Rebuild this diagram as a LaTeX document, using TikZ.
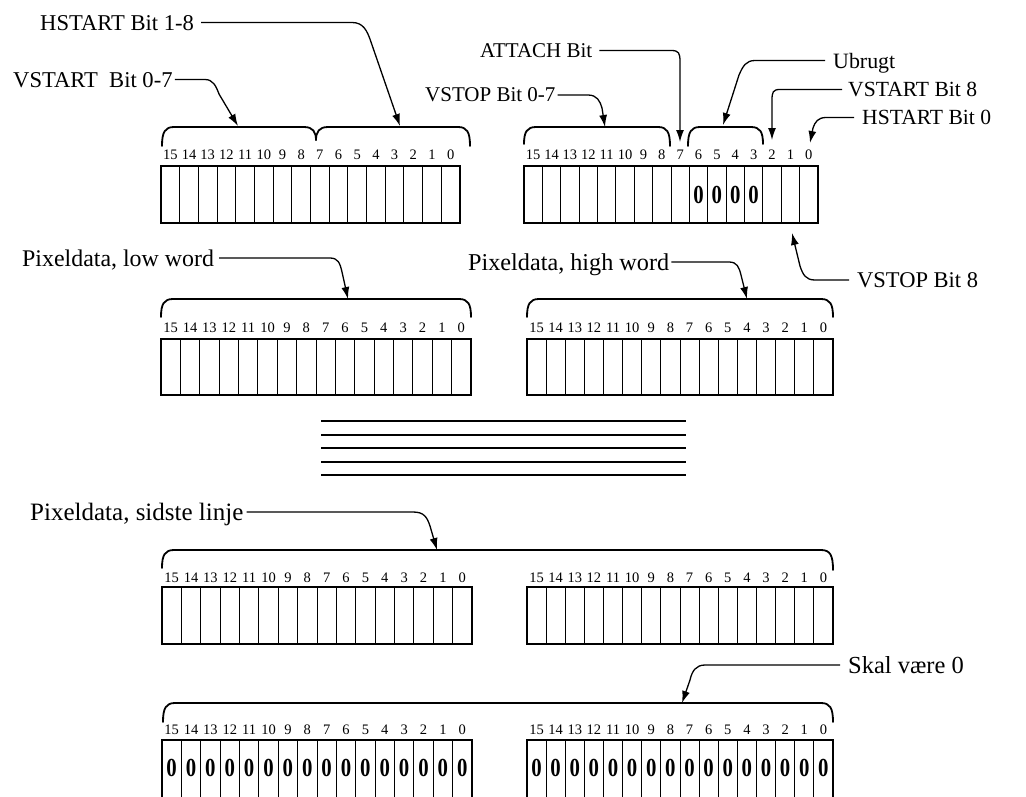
\documentclass[tikz,border=0pt]{standalone}
\usepackage{fontspec}
\setmainfont{Liberation Serif}
\usetikzlibrary{arrows.meta}
\tikzset{
  lbl/.style={anchor=west, inner sep=0pt, text depth=0pt, font=\fontsize{#1}{#1}\selectfont},
  conn/.style={line width=1.3pt, -{Latex[length=12pt,width=8pt]}},
  bracel/.style={line width=1.8pt, line cap=round},
  outerln/.style={line width=1.6pt},
  cellln/.style={line width=0.9pt},
  bitnum/.style={inner sep=0pt, font=\fontsize{14.5}{14.5}\selectfont},
  zero/.style={inner sep=0pt, font=\fontsize{26}{26}\selectfont\bfseries},
  bar/.style={line width=2.8pt},
}
% #1 name, #2 x0, #3 x1, #4 ytop, #5 ybot, #6 y of bit numbers
\newcommand\wordreg[6]{%
  \pgfmathsetmacro\cwid{(#3-#2)/16}
  \draw[cellln] foreach \i in {1,...,15}{ ({#2+\i*\cwid},#4) -- ({#2+\i*\cwid},#5) };
  \draw[outerln] (#2,#4) rectangle (#3,#5);
  \foreach \i in {0,...,15}{
    \pgfmathtruncatemacro\bitn{15-\i}
    \node[bitnum] (#1B\bitn) at ({#2+(\i+0.5)*\cwid},#6) {\bitn};
  }
}
% #1 x0, #2 x1, #3 ytop, #4 left drop, #5 right drop
\newcommand\brc[5]{%
  \draw[bracel] (#1,{#3+#4}) .. controls (#1,{#3+5}) and ({#1+3},#3) .. ({#1+12},#3)
     -- ({#2-12},#3) .. controls ({#2-3},#3) and (#2,{#3+5}) .. (#2,{#3+#5});
}
\begin{document}
\begin{tikzpicture}[x=1pt,y=-1pt]
\useasboundingbox (0,0) rectangle (1026,796);

% ---------- registers ----------
\wordreg{r1a}{161}{460}{166}{223}{155}
\wordreg{r1b}{524}{818}{166}{223}{155}
\wordreg{r2a}{161}{471}{339}{395}{328}
\wordreg{r2b}{527}{833}{339}{395}{328}
\wordreg{r3a}{162}{472}{587}{644}{578}
\wordreg{r3b}{527}{833}{587}{644}{578}
\wordreg{r4a}{162}{472}{740}{806}{730}
\wordreg{r4b}{527}{833}{740}{806}{730}

% zeros
\foreach \b in {6,5,4,3}{ \node[zero] at (r1bB\b |- 0,195) {\scalebox{0.8}[1]{0}}; }
\foreach \b in {0,...,15}{
  \node[zero] at (r4aB\b |- 0,768) {\scalebox{0.8}[1]{0}};
  \node[zero] at (r4bB\b |- 0,768) {\scalebox{0.8}[1]{0}};
}

% ---------- braces ----------
\brc{162}{316}{127}{19}{13}
\brc{316}{470}{127}{13}{19}
\brc{524}{670}{127}{17}{19}
\brc{688}{763}{127}{19}{17}
\brc{161}{471}{299}{18}{18}
\brc{527}{833}{299}{18}{18}
\brc{162}{833}{550}{18}{20}
\brc{163}{833}{703}{19}{19}

% ---------- continuation bars ----------
\foreach \yy in {421,435,448,462,475}{ \draw[bar] (321,\yy) -- (686,\yy); }

% ---------- labels ----------
\node[lbl=22.6] (hs18) at (40,22.5) {HSTART Bit 1-8};
\node[lbl=22.6] (vs07) at (13,79.5) {VSTART\ \ Bit 0-7};
\node[lbl=21.0] (att) at (480,50.5) {ATTACH Bit};
\node[lbl=21.0] (vsp07) at (425,95) {VSTOP Bit 0-7};
\node[lbl=21.9] (ubr) at (833,60.5) {Ubrugt};
\node[lbl=21.6] (vst8) at (848,89.5) {VSTART Bit 8};
\node[lbl=21.6] (hst0) at (862,117.5) {HSTART Bit 0};
\node[lbl=22.5] (vsp8) at (857,280) {VSTOP Bit 8};
\node[lbl=23.9] (pxl) at (22,258) {Pixeldata, low word};
\node[lbl=24.2] (pxh) at (468,262) {Pixeldata, high word};
\node[lbl=25.0] (pxs) at (30,512) {Pixeldata, sidste linje};
\node[lbl=24.5] (skal) at (848,665) {Skal være 0};

% ---------- arrow tips ----------
\coordinate (tHS18) at (400,126);
\coordinate (tVS07) at (238,126);
\coordinate (tATT) at (680,142);
\coordinate (tVSP07) at (605,127);
\coordinate (tUBR) at (723,125);
\coordinate (tVST8) at (772,140);
\coordinate (tHST0) at (810,143);
\coordinate (tVSP8) at (792,233);
\coordinate (tPXL) at (348,299);
\coordinate (tPXH) at (747,299);
\coordinate (tPXS) at (437,550);
\coordinate (tSKAL) at (682,703);

% ---------- connectors ----------
\draw[conn] ([xshift=7pt]hs18.east) -- (hs18.east -| 352,0)
  .. controls (363,22.5) and (367,30) .. (371,42) -- (tHS18);
\draw[conn] ([xshift=2pt]vs07.east) -- (vs07.east -| 205,0)
  .. controls (213,79.5) and (216,86) .. (219,94) -- (tVS07);
\draw[conn] ([xshift=2pt]vsp07.east) -- (vsp07.east -| 588,0)
  .. controls (597,95) and (600,101) .. (602,108) -- (tVSP07);
\draw[conn] ([xshift=7pt]att.east) -- (att.east -| 671,0)
  .. controls (679,50.5) and (680,53) .. (680,62) -- (tATT);
\draw[conn] ([xshift=-8pt]ubr.west) -- (ubr.west -| 755,0)
  .. controls (746,60.5) and (743,66) .. (739,75) -- (tUBR);
\draw[conn] ([xshift=-6pt]vst8.west) -- (vst8.west -| 780,0)
  .. controls (773,89.5) and (772,92) .. (772,100) -- (tVST8);
\draw[conn] ([xshift=-8pt]hst0.west) -- (hst0.west -| 826,0)
  .. controls (818,117.5) and (815,122) .. (813,128) -- (tHST0);
\draw[conn] ([xshift=-8pt]vsp8.west) -- (vsp8.west -| 815,0)
  .. controls (806,280) and (803,275) .. (800,266) -- (tVSP8);
\draw[conn] ([xshift=5pt]pxl.east) -- (pxl.east -| 330,0)
  .. controls (338,258) and (340,263) .. (342,272) -- (tPXL);
\draw[conn] ([xshift=2pt]pxh.east) -- (pxh.east -| 729,0)
  .. controls (737,262) and (739,267) .. (741,275) -- (tPXH);
\draw[conn] ([xshift=3pt]pxs.east) -- (pxs.east -| 413,0)
  .. controls (424,512) and (427,517) .. (430,526) -- (tPXS);
\draw[conn] ([xshift=-8pt]skal.west) -- (skal.west -| 705,0)
  .. controls (696,665) and (692,671) .. (690,680) -- (tSKAL);
\end{tikzpicture}
\end{document}
